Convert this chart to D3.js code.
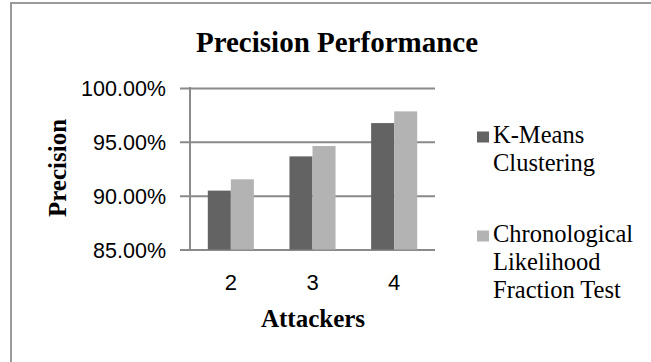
<!DOCTYPE html>
<html>
<head>
<meta charset="utf-8">
<script src="https://cdn.jsdelivr.net/npm/d3@7"></script>
<style>
  html, body { margin: 0; padding: 0; background: #fff; }
  svg { display: block; }
</style>
</head>
<body>
<div id="chart"></div>
<script>
// chart data
const categories = ['2', '3', '4'];
const seriesNames = ['K-Means Clustering', 'Chronological Likelihood Fraction Test'];
const legendLines = [['K-Means', 'Clustering'], ['Chronological', 'Likelihood', 'Fraction Test']];
const kMeans = [0.9047, 0.9365, 0.9674];
const chronological = [0.9152, 0.9461, 0.9783];
const yTicks = [0.85, 0.90, 0.95, 1.00];
const seriesColors = ['#636363', '#b3b3b3'];

const width = 651, height = 362;
const plot = { left: 190, right: 435, top: 88, bottom: 249.5 };
const gridColor = '#8a8a8a';

const svg = d3.select('#chart').append('svg')
  .attr('width', width)
  .attr('height', height);

// outer frame (only top and left edges fall inside the picture)
svg.append('rect')
  .attr('x', 11).attr('y', 3)
  .attr('width', 700).attr('height', 400)
  .attr('fill', 'none')
  .attr('stroke', '#9a9a9a')
  .attr('stroke-width', 2);

// title
svg.append('text')
  .attr('x', 337).attr('y', 52)
  .attr('text-anchor', 'middle')
  .attr('font-family', "'Liberation Serif', 'Times New Roman', serif")
  .attr('font-weight', 700)
  .attr('font-size', '29px')
  .text('Precision Performance');

// scales
const x0 = d3.scaleBand()
  .domain(categories)
  .range([plot.left, plot.right])
  .padding(0);

const bw = x0.bandwidth();
const x1 = d3.scaleBand()
  .domain(seriesNames)
  .range([bw * 0.218, bw * 0.782])
  .padding(0);

const y = d3.scaleLinear()
  .domain([0.85, 1.00])
  .range([plot.bottom, plot.top]);

// y axis with gridlines
const yAxis = svg.append('g')
  .attr('transform', `translate(${plot.left},0)`)
  .call(d3.axisLeft(y)
    .tickValues(yTicks)
    .tickFormat(d3.format('.2%'))
    .tickSizeInner(-(plot.right - plot.left))
    .tickSizeOuter(0)
    .tickPadding(24));

yAxis.select('.domain').remove();
yAxis.selectAll('.tick line')
  .attr('x1', -10)
  .attr('x2', plot.right - plot.left)
  .attr('stroke', gridColor)
  .attr('stroke-width', 2);
yAxis.selectAll('.tick text')
  .attr('font-family', "'Liberation Sans', Arial, sans-serif")
  .attr('font-size', '21.5px')
  .attr('fill', '#000')
  .attr('dy', '0.36em');

// bars
const rows = categories.map((c, i) => ({ cat: c, values: [kMeans[i], chronological[i]] }));

const groups = svg.selectAll('.grp')
  .data(rows)
  .enter()
  .append('g')
  .attr('class', 'grp')
  .attr('transform', d => `translate(${x0(d.cat)},0)`);

groups.selectAll('rect')
  .data(d => d.values.map((v, j) => ({ name: seriesNames[j], value: v, idx: j })))
  .enter()
  .append('rect')
  .attr('x', d => x1(d.name))
  .attr('y', d => y(d.value))
  .attr('width', x1.bandwidth())
  .attr('height', d => y(0.85) - y(d.value))
  .attr('fill', d => seriesColors[d.idx]);

// vertical axis line
svg.append('line')
  .attr('x1', plot.left).attr('x2', plot.left)
  .attr('y1', plot.top - 1).attr('y2', plot.bottom + 1)
  .attr('stroke', gridColor)
  .attr('stroke-width', 2);

// x axis labels
const xAxis = svg.append('g')
  .attr('transform', `translate(0,${plot.bottom})`)
  .call(d3.axisBottom(x0).tickSize(0).tickPadding(25));
xAxis.select('.domain').remove();
xAxis.selectAll('.tick text')
  .attr('font-family', "'Liberation Sans', Arial, sans-serif")
  .attr('font-size', '22px')
  .attr('fill', '#000');

// axis titles
svg.append('text')
  .attr('x', 313).attr('y', 327)
  .attr('text-anchor', 'middle')
  .attr('font-family', "'Liberation Serif', 'Times New Roman', serif")
  .attr('font-weight', 700)
  .attr('font-size', '25px')
  .text('Attackers');

svg.append('text')
  .attr('transform', 'translate(66,168) rotate(-90)')
  .attr('text-anchor', 'middle')
  .attr('font-family', "'Liberation Serif', 'Times New Roman', serif")
  .attr('font-weight', 700)
  .attr('font-size', '25px')
  .text('Precision');

// legend
const legendTop = [143, 242];
const legend = svg.selectAll('.legend')
  .data(seriesNames)
  .enter()
  .append('g')
  .attr('class', 'legend')
  .attr('transform', (d, i) => `translate(477,${legendTop[i]})`);

legend.append('rect')
  .attr('x', 0).attr('y', -11.5)
  .attr('width', 12).attr('height', 11)
  .attr('fill', (d, i) => seriesColors[i]);

legend.append('text')
  .attr('font-family', "'Liberation Serif', 'Times New Roman', serif")
  .attr('font-size', '24.5px')
  .attr('fill', '#000')
  .selectAll('tspan')
  .data((d, i) => legendLines[i])
  .enter()
  .append('tspan')
  .attr('x', 16)
  .attr('y', (d, k) => k * 28)
  .text(d => d);
</script>
</body>
</html>
